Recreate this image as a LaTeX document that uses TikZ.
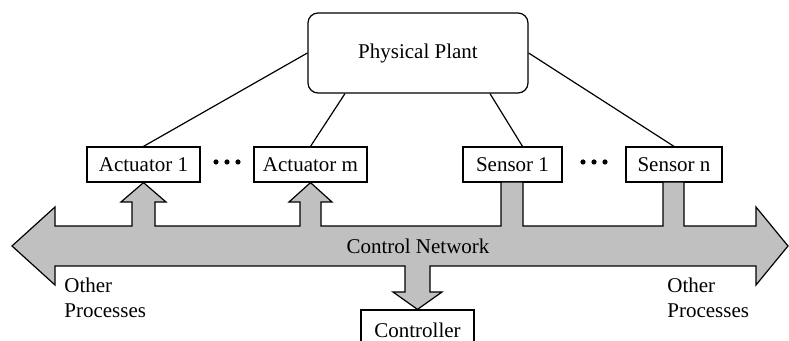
\documentclass[tikz,border=0pt]{standalone}
\usepackage{fontspec}
\setmainfont{Liberation Serif}
\usepackage{tikz}

\definecolor{busgray}{RGB}{192,192,192}

\tikzset{
  unit/.style={draw, fill=white, line width=0.6pt, inner sep=0pt,
    minimum height=17.5pt, font=\fontsize{10.5}{12.5}\selectfont},
  lbl/.style={inner sep=0pt, font=\fontsize{10.5}{12.5}\selectfont}
}

\begin{document}
\begin{tikzpicture}[x=0.5pt, y=-0.5pt]
\clip (0,0) rectangle (789,341);

% plant and the boxes round it
\node[unit, rounded corners=5pt, minimum width=110pt, minimum height=40pt] (plant) at (418,53) {Physical Plant};
\node[unit, minimum width=56.5pt] (act1) at (143.5,164.5) {Actuator 1};
\node[unit, minimum width=56.5pt] (actm) at (310.5,164.5) {Actuator m};
\node[unit, minimum width=49.5pt] (sen1) at (512.5,164.5) {Sensor 1};
\node[unit, minimum width=48pt]   (senn) at (674,164.5) {Sensor n};
\node[unit, minimum width=56.5pt, minimum height=20pt] (ctrl) at (417.5,330) {Controller};

\draw[line width=0.6pt] (plant.west) -- (act1.north);
\draw[line width=0.6pt] ([xshift=-36.5pt]plant.south) -- (actm.north);
\draw[line width=0.6pt] ([xshift=36pt]plant.south) -- ([xshift=5pt]sen1.north);
\draw[line width=0.6pt] (plant.east) -- (senn.north);

% dots between the boxes
\foreach \x in {216, 227, 238, 583, 594, 605} {
    \fill (\x,162) circle (1.3pt);
};

% The network bus with its branches
\draw[fill=busgray, line width=0.6pt, line join=miter]
  (12,246) -- (55,207) -- (55,226)
  -- (132,226) -- (132,202) -- (121,202) -- (act1.south) -- (166,202) -- (155,202) -- (155,226)
  -- (300,226) -- (300,202) -- (289,202) -- (actm.south) -- (332,202) -- (321,202) -- (321,226)
  -- (501,226) -- (501,182) -- (523,182) -- (523,226)
  -- (663,226) -- (663,182) -- (684,182) -- (684,226)
  -- (756,226) -- (756,207) -- (788,246) -- (756,285) -- (756,266)
  -- (430,266) -- (430,292) -- (442,292) -- (ctrl.north) -- (393,292) -- (405,292) -- (405,266)
  -- (55,266) -- (55,285) -- cycle;

\node[lbl] (net) at (418,246) {Control Network};
\node[lbl, anchor=west, align=left] (othl) at (64,297.5) {Other\\Processes};
\node[lbl, anchor=west, align=left] (othr) at (667,297.5) {Other\\Processes};
\end{tikzpicture}
\end{document}
